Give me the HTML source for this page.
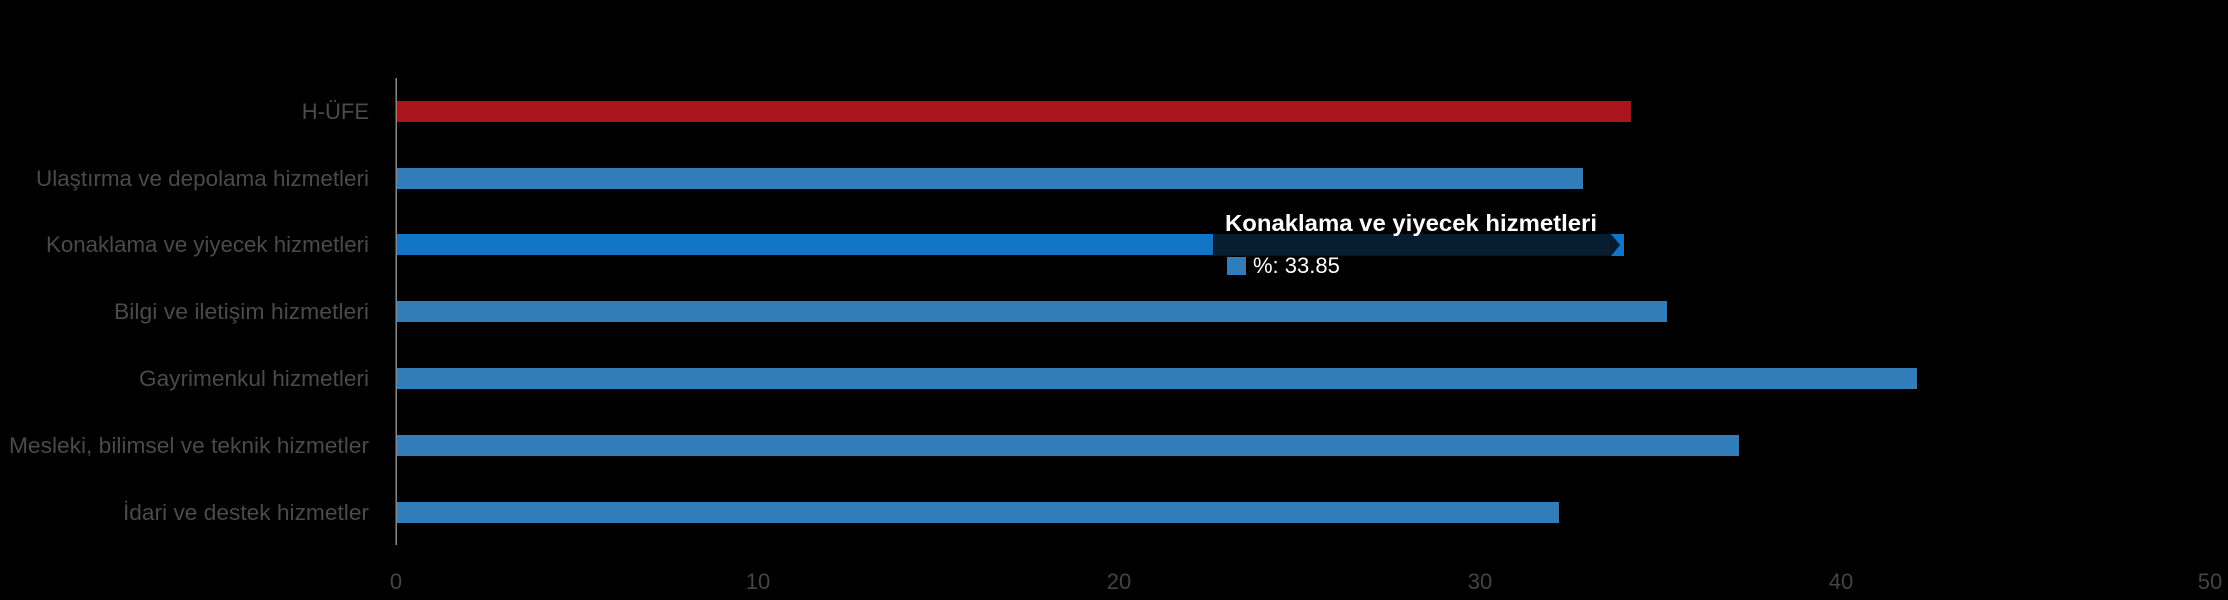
<!DOCTYPE html>
<html><head><meta charset="utf-8"><style>
html,body{margin:0;padding:0;background:#000;}
svg{display:block;}
</style></head><body>
<svg width="2228" height="600" viewBox="0 0 2228 600" xmlns="http://www.w3.org/2000/svg">
<rect width="2228" height="600" fill="#000"/>
<g font-family="Liberation Sans, sans-serif" font-size="22" fill="#4a4a4a" text-anchor="end">
<text x="369" y="119">H-ÜFE</text>
<text x="369" y="186" textLength="333" lengthAdjust="spacingAndGlyphs">Ulaştırma ve depolama hizmetleri</text>
<text x="369" y="252" textLength="323" lengthAdjust="spacingAndGlyphs">Konaklama ve yiyecek hizmetleri</text>
<text x="369" y="319" textLength="255" lengthAdjust="spacingAndGlyphs">Bilgi ve iletişim hizmetleri</text>
<text x="369" y="386" textLength="230" lengthAdjust="spacingAndGlyphs">Gayrimenkul hizmetleri</text>
<text x="369" y="453" textLength="360" lengthAdjust="spacingAndGlyphs">Mesleki, bilimsel ve teknik hizmetler</text>
<text x="369" y="520" textLength="246" lengthAdjust="spacingAndGlyphs">İdari ve destek hizmetler</text>
</g>
<rect x="397" y="101" width="1234" height="21" fill="#a8151c"/>
<rect x="397" y="168" width="1186" height="21" fill="#317dba"/>
<rect x="397" y="234" width="1222" height="21" fill="#1274c4"/>
<rect x="397" y="301" width="1270" height="21" fill="#317dba"/>
<rect x="397" y="368" width="1520" height="21" fill="#317dba"/>
<rect x="397" y="435" width="1342" height="21" fill="#317dba"/>
<rect x="397" y="502" width="1162" height="21" fill="#317dba"/>
<rect x="395.5" y="78" width="1.5" height="467" fill="#888"/>
<g font-family="Liberation Sans, sans-serif" font-size="22" fill="#444" text-anchor="middle">
<text x="396" y="589">0</text>
<text x="758" y="589">10</text>
<text x="1119" y="589">20</text>
<text x="1480" y="589">30</text>
<text x="1841" y="589">40</text>
<text x="2210" y="589">50</text>
</g>
<rect x="1213" y="234" width="398" height="22" fill="#06182a" opacity="0.95"/>
<polygon points="1610,234 1624,245 1610,256" fill="#06182a"/>
<polygon points="1611,234 1624,234 1624,256 1611,256 1620,245" fill="#1274c4"/>
<text x="1225" y="231" font-family="Liberation Sans, sans-serif" font-size="23" font-weight="bold" fill="#fff" textLength="372" lengthAdjust="spacingAndGlyphs">Konaklama ve yiyecek hizmetleri</text>
<rect x="1227" y="257" width="19" height="18" fill="#317dba"/>
<text x="1253" y="273" font-family="Liberation Sans, sans-serif" font-size="22" fill="#fff">%: 33.85</text>
</svg>
</body></html>
